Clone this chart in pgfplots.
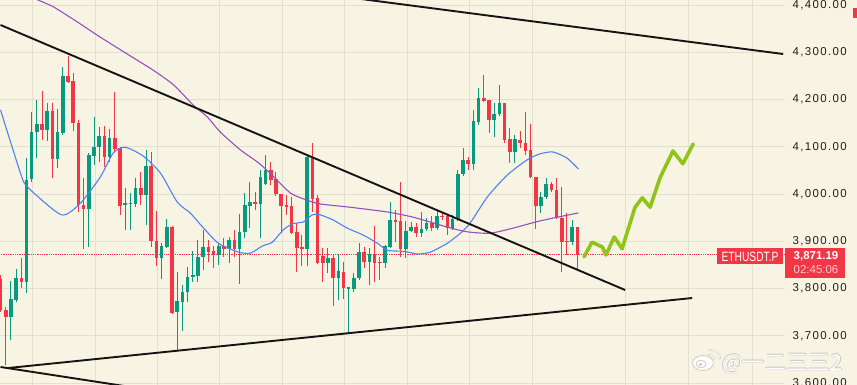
\documentclass[border=0pt]{standalone}
\usepackage{fontspec}
\setmainfont{Liberation Sans}
\newfontfamily\ticksfont[LetterSpace=12]{Liberation Sans}
\newfontfamily\cjk{Noto Sans CJK SC}
\usepackage{graphicx}
\usepackage{pgfplots}
\usepackage{pgfplotstable}
\pgfplotsset{compat=1.18}
\definecolor{bg}{RGB}{248,244,228}
\definecolor{gridc}{RGB}{228,224,208}
\definecolor{up}{RGB}{8,153,129}
\definecolor{dn}{RGB}{242,54,69}
\definecolor{ma1}{RGB}{80,130,240}
\definecolor{ma2}{RGB}{150,80,190}
\definecolor{fc}{RGB}{145,195,25}
\definecolor{lbl}{RGB}{30,30,30}
\definecolor{tl}{RGB}{20,20,20}
\definecolor{wmg}{RGB}{200,198,190}

\pgfplotstableread{
i o h l c
2 3740 3816 3691 3778
3 3776 3841 3771 3822
5 3814 4076 3791 4030
6 4032 4174 4025 4131
7 4131 4199 4076 4148
9 4135 4193 4112 4176
11 4074 4180 4055 4131
12 4129 4269 4125 4250
17 3968 4087 3888 4083
18 4080 4163 4061 4099
19 4099 4142 4068 4123
21 4078 4138 4068 4119
24 3977 4013 3924 3981
25 3979 4002 3924 3981
26 3979 4034 3972 4013
28 3998 4093 3934 4059
31 3865 3896 3820 3890
32 3888 3947 3886 3930
34 3750 3835 3670 3774
35 3771 3808 3710 3793
36 3793 3846 3771 3824
37 3824 3879 3814 3829
38 3827 3903 3814 3867
39 3867 3924 3839 3888
42 3871 3896 3850 3890
44 3884 3909 3854 3903
46 3884 3958 3810 3920
47 3920 4002 3907 3977
48 3975 4025 3928 3983
50 3979 4051 3907 4036
51 4021 4083 4019 4051
59 3884 4083 3848 4078
63 3854 3886 3833 3865
65 3822 3873 3776 3837
67 3799 3803 3704 3803
68 3799 3833 3793 3822
69 3822 3896 3818 3877
71 3856 3886 3808 3873
74 3854 3892 3843 3890
75 3888 3983 3886 3945
78 3884 3943 3865 3922
79 3922 3941 3920 3930
81 3917 3962 3909 3926
82 3926 3949 3922 3939
84 3928 3964 3924 3953
87 3928 3956 3924 3947
88 3947 4051 3943 4042
89 4042 4097 4038 4072
91 4064 4178 4051 4155
92 4152 4224 4146 4203
95 4157 4193 4121 4169
96 4169 4231 4165 4193
99 4089 4125 4066 4116
104 3975 4004 3960 3994
105 3994 4034 3989 4021
110 3898 3945 3892 3930
}\upT

\pgfplotstableread{
i o h l c
0 3820 3829 3750 3754
1 3754 3761 3638 3740
4 3822 3865 3801 3814
8 4148 4218 4114 4135
10 4176 4193 4034 4074
13 4250 4292 4235 4237
14 4239 4256 4133 4150
15 4150 4157 3962 3977
16 3977 4034 3884 3968
20 4123 4144 4057 4078
22 4119 4216 4089 4095
23 4097 4099 3956 3975
27 4013 4047 3977 3998
29 4059 4089 3888 3900
30 3900 3964 3848 3865
33 3930 3932 3746 3748
40 3888 3903 3856 3877
41 3879 3890 3843 3871
43 3890 3907 3867 3884
45 3903 3924 3867 3884
49 3983 4004 3966 3979
52 4051 4068 4019 4030
53 4032 4047 3996 4000
54 4000 4000 3917 3975
55 3977 3998 3956 3972
56 3975 3994 3915 3917
57 3920 3939 3835 3886
58 3888 3913 3848 3884
60 4078 4108 3962 3989
61 3992 3998 3852 3854
62 3869 3886 3814 3854
64 3865 3871 3763 3822
66 3835 3856 3778 3801
70 3877 3888 3843 3856
72 3873 3932 3814 3854
73 3856 3867 3818 3854
76 3945 3966 3898 3941
77 3943 4025 3867 3884
80 3930 3939 3909 3917
83 3939 3953 3922 3928
85 3953 3962 3945 3951
86 3953 3956 3913 3928
90 4072 4078 4051 4064
93 4203 4252 4195 4197
94 4199 4199 4129 4157
97 4193 4193 4108 4114
98 4116 4140 4066 4089
100 4114 4133 4097 4108
101 4108 4174 4083 4091
102 4093 4148 4034 4036
103 4036 4036 3926 3975
106 4021 4025 4004 4008
107 4008 4034 3947 3949
108 3949 4015 3835 3898
109 3900 3960 3871 3898
111 3930 3930 3837 3871
}\dnT

\pgfplotsset{
  wick/.style={draw=none, mark=none, forget plot,
    error bars/.cd, y dir=both, y explicit, error mark=none,
    error bar style={draw=#1, line width=1bp}},
  body/.style={draw=none, mark=none, forget plot,
    error bars/.cd, y dir=both, y explicit, error mark=none,
    error bar style={draw=#1, line width=3.6bp}},
}

\begin{document}
\begin{tikzpicture}
\fill[bg] (0,0) rectangle (857bp,385bp);
\begin{axis}[
  at={(0,0)}, anchor=south west,
  scale only axis, width=785bp, height=385bp,
  xmin=-0.1, xmax=150.96, ymin=3595.8, ymax=4410.6,
  axis line style={draw=none},
  xtick={6.15,18.2,30.2,42.2,54.2,66.25,78.3,90.3,102.3,120.2,132.3,144.6},
  xticklabels={},
  ytick={3600,3700,...,4400},
  yticklabel pos=right,
  scaled y ticks=false,
  /pgf/number format/fixed,
  /pgf/number format/fixed zerofill,
  /pgf/number format/precision=2,
  /pgf/number format/1000 sep={,},
  /pgf/number format/assume math mode=true,
  yticklabel style={font=\ticksfont\fontsize{11.5}{12}\selectfont, text=lbl, anchor=west, xshift=4bp},
  grid=major,
  major grid style={draw=gridc, line width=0.8bp},
  major tick length=0pt,
  tick style={draw=none},
]
% price line
\addplot[dn, densely dotted, line width=0.8bp, forget plot] coordinates {(-1,3871.19) (151,3871.19)};
% candles
\addplot[wick=up] table[x=i, y=h, y error plus expr=0, y error minus expr=\thisrow{h}-\thisrow{l}] {\upT};
\addplot[wick=dn] table[x=i, y=h, y error plus expr=0, y error minus expr=\thisrow{h}-\thisrow{l}] {\dnT};
\addplot[body=up] table[x=i, y=c, y error plus expr=0, y error minus expr=\thisrow{c}-\thisrow{o}] {\upT};
\addplot[body=dn] table[x=i, y=o, y error plus expr=0, y error minus expr=\thisrow{o}-\thisrow{c}] {\dnT};
% moving averages
\addplot[ma1, line width=1.1bp, smooth, tension=0.4] coordinates {
(0,4178) (3.85,4044) (5.19,4015) (11.7,3956) (15.4,3981) (19.2,4036) (21.7,4087)
(24.0,4099) (27.5,4080) (30.8,4044) (34.0,3983) (36.5,3960) (38.5,3935) (41.9,3896)
(45.8,3877) (48.1,3875) (50.4,3890) (52.3,3898) (54.4,3924) (56.2,3937) (58.3,3941)
(60.0,3956) (61.5,3956) (64.0,3945) (66.7,3928) (69.8,3913) (72.5,3896) (74.4,3881)
(76.9,3879) (78.5,3877) (80.2,3873) (82.7,3877) (86.0,3896) (88.5,3917) (90.4,3939)
(93.7,3994) (97.5,4040) (101.3,4072) (103.8,4085) (106.3,4089) (109.0,4076) (111.2,4053)};
\addplot[ma2, line width=1.1bp, smooth, tension=0.4] coordinates {
(7.1,4411) (10.2,4396) (14.8,4364) (19.2,4332) (25.6,4288) (29.4,4262) (33.3,4231)
(37.1,4188) (39.8,4163) (42.3,4131) (46.2,4093) (49.4,4068) (51.9,4044) (55.8,4002)
(59.0,3987) (61.5,3979) (67.3,3972) (74.4,3962) (79.4,3951) (86.0,3930) (89.8,3920)
(94.2,3917) (98.7,3928) (103.8,3943) (111.2,3960)};
% trend lines
\addplot[tl, line width=1.9bp] coordinates {(69.2,4413) (150.6,4296.3)};
\addplot[tl, line width=1.9bp] coordinates {(0,4357.7) (120.2,3796.8)};
\addplot[tl, line width=1.9bp] coordinates {(1.54,3631.8) (133.1,3779.9)};
\addplot[tl, line width=1.9bp] coordinates {(0,3633.9) (25,3591.6)};
% forecast path
\addplot[fc, line width=3.6bp, line join=round, line cap=round] coordinates {
(112.3,3867) (113.8,3898) (115.8,3888) (116.5,3871) (118.1,3909) (119.6,3884)
(122.1,3972) (123.5,3992) (125.0,3972) (126.9,4034) (129.4,4091) (131.3,4064) (133.3,4106)};
\end{axis}
% price labels
\node[fill=dn, minimum width=66bp, minimum height=16bp, inner sep=0pt, text=white,
      font=\fontsize{13.5}{13.5}\selectfont] at (750bp,128.5bp) {\scalebox{0.76}[1]{ETHUSDT.P}};
\fill[dn] (785bp,107bp) rectangle (845bp,137bp);
\node[anchor=west, inner sep=0pt, text=white, font=\bfseries\fontsize{11.5}{12}\selectfont] at (793.5bp,129bp) {3,871.19};
\node[anchor=west, inner sep=0pt, text={rgb,255:red,255;green,205;blue,210}, font=\fontsize{11.5}{12}\selectfont] at (793.5bp,115bp) {02:45:06};
\fill[dn] (853bp,367bp) rectangle (857bp,377bp);
% watermark (weibo logo + handle)
\begin{scope}[line width=0.7bp]
\filldraw[fill=white, draw=wmg] (703bp,22bp) ellipse (10.5bp and 7.5bp);
\draw[wmg] (701bp,21bp) ellipse (5bp and 3.8bp);
\fill[wmg] (700.5bp,20.5bp) circle (1.6bp);
\draw[wmg, line width=1.6bp, line cap=round] (709bp,30bp) arc (100:10:5bp);
\draw[wmg, line width=1.6bp, line cap=round] (709.5bp,35bp) arc (100:0:9bp);
\draw[white, line width=0.8bp, line cap=round] (709bp,30bp) arc (100:10:5bp);
\draw[white, line width=0.8bp, line cap=round] (709.5bp,35bp) arc (100:0:9bp);
\end{scope}
\foreach \dx/\dy in {0.6/0,-0.6/0,0/0.6,0/-0.6}{
  \node[anchor=west, inner sep=0pt, text=wmg, font=\cjk\fontsize{22}{22}\selectfont] at ([shift={(\dx bp,\dy bp)}]722bp,21bp) {@一二三三2};
}
\node[anchor=west, inner sep=0pt, text=white, font=\cjk\fontsize{22}{22}\selectfont] at (722bp,21bp) {@一二三三2};
\pgfresetboundingbox
\path[use as bounding box] (0,0) rectangle (857bp,385bp);
\end{tikzpicture}
\end{document}
